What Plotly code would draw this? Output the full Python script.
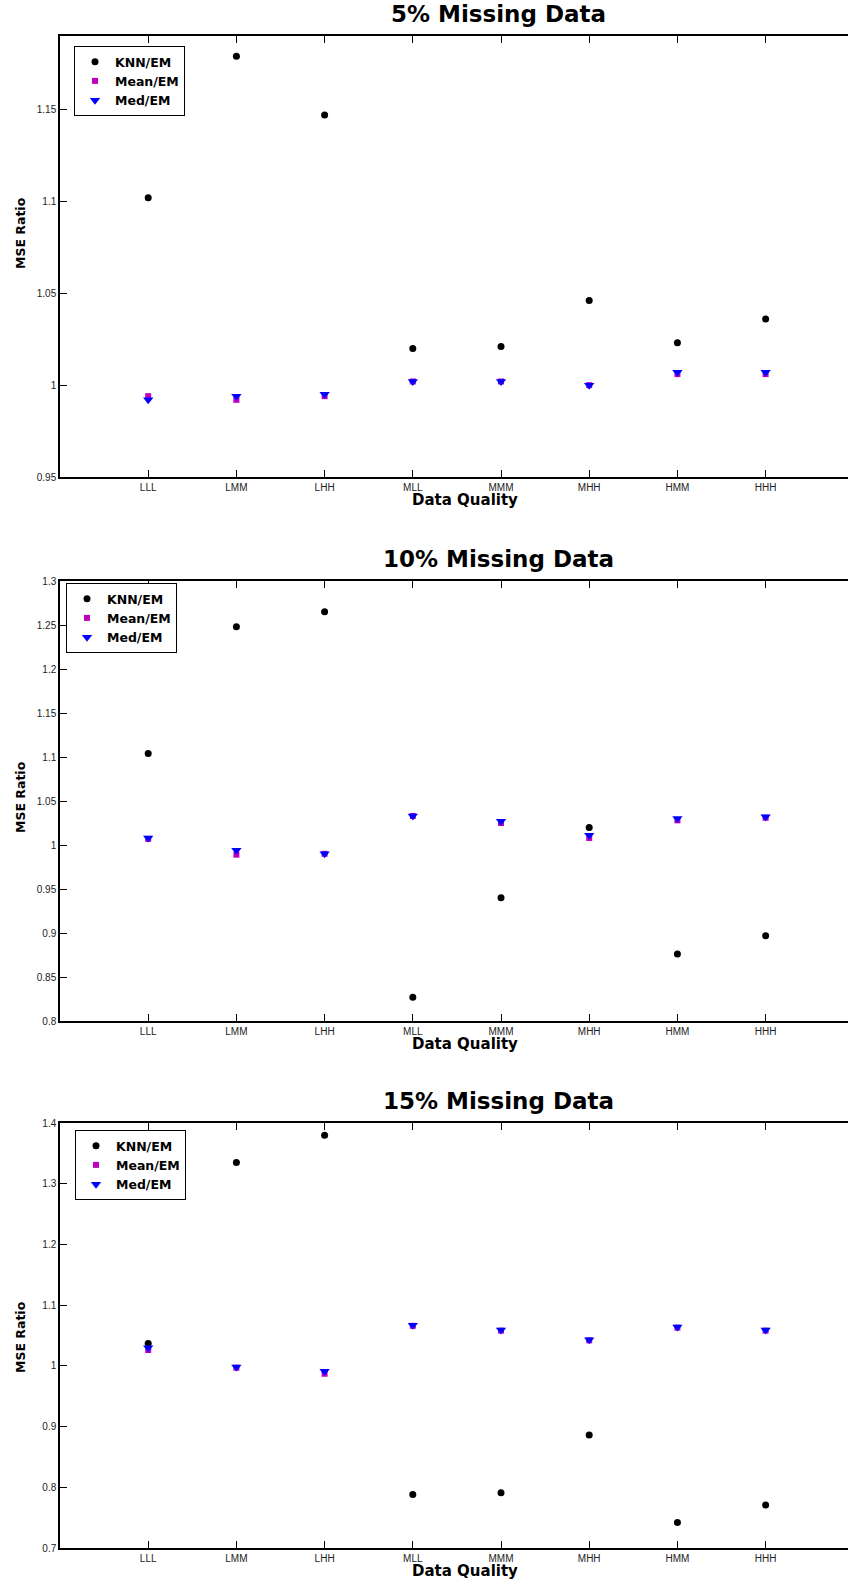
import plotly.graph_objects as go

categories = ["LLL", "LMM", "LHH", "MLL", "MMM", "MHH", "HMM", "HHH"]

# 5% missing data
knn_5 = [1.102, 1.179, 1.147, 1.020, 1.021, 1.046, 1.023, 1.036]
mean_5 = [0.994, 0.992, 0.994, 1.002, 1.002, 1.000, 1.006, 1.006]
med_5 = [0.992, 0.994, 0.995, 1.002, 1.002, 1.000, 1.007, 1.007]

# 10% missing data
knn_10 = [1.104, 1.248, 1.265, 0.827, 0.940, 1.020, 0.876, 0.897]
mean_10 = [1.007, 0.989, 0.990, 1.033, 1.025, 1.008, 1.028, 1.031]
med_10 = [1.008, 0.994, 0.990, 1.033, 1.027, 1.011, 1.030, 1.032]

# 15% missing data
knn_15 = [1.037, 1.335, 1.380, 0.788, 0.791, 0.886, 0.742, 0.771]
mean_15 = [1.026, 0.997, 0.987, 1.066, 1.058, 1.042, 1.063, 1.058]
med_15 = [1.030, 0.998, 0.991, 1.067, 1.059, 1.043, 1.064, 1.059]

titles = ["5% Missing Data", "10% Missing Data", "15% Missing Data"]
series_names = ["KNN/EM", "Mean/EM", "Med/EM"]

yticks_5 = [0.95, 1.0, 1.05, 1.1, 1.15]
yticktext_5 = ["0.95", "1", "1.05", "1.1", "1.15"]
yticks_10 = [0.8, 0.85, 0.9, 0.95, 1.0, 1.05, 1.1, 1.15, 1.2, 1.25, 1.3]
yticktext_10 = ["0.8", "0.85", "0.9", "0.95", "1", "1.05", "1.1", "1.15", "1.2", "1.25", "1.3"]
yticks_15 = [0.7, 0.8, 0.9, 1.0, 1.1, 1.2, 1.3, 1.4]
yticktext_15 = ["0.7", "0.8", "0.9", "1", "1.1", "1.2", "1.3", "1.4"]

yranges = [[0.95, 1.19], [0.8, 1.3], [0.7, 1.4]]

W, H = 848, 1583
# pixel geometry of each panel (top, bottom)
panels = [(36, 477), (581, 1021), (1123, 1548)]
legend_pos = [(74, 46), (66, 583), (75, 1130)]
ylab_center = [233, 797, 1337]

data = [
    (knn_5, mean_5, med_5, yticks_5, yticktext_5),
    (knn_10, mean_10, med_10, yticks_10, yticktext_10),
    (knn_15, mean_15, med_15, yticks_15, yticktext_15),
]

fig = go.Figure()
FONT = "DejaVu Sans"
TICKFONT = dict(family="Liberation Sans, Arial", size=10, color="#222")

annotations = []
for i, (knn, mean, med, yt, ytt) in enumerate(data):
    n = i + 1
    xa = "x" if n == 1 else f"x{n}"
    ya = "y" if n == 1 else f"y{n}"
    lg = "legend" if n == 1 else f"legend{n}"
    fig.add_trace(go.Scatter(x=categories, y=knn, mode="markers", name=series_names[0],
                             marker=dict(symbol="circle", size=7, color="black"),
                             xaxis=xa, yaxis=ya, legend=lg))
    fig.add_trace(go.Scatter(x=categories, y=mean, mode="markers", name=series_names[1],
                             marker=dict(symbol="square", size=6, color="#C000C0"),
                             xaxis=xa, yaxis=ya, legend=lg))
    fig.add_trace(go.Scatter(x=categories, y=med, mode="markers", name=series_names[2],
                             marker=dict(symbol="triangle-down", size=9, color="#0000FF"),
                             xaxis=xa, yaxis=ya, legend=lg))
    top, bot = panels[i]
    dom = [1 - bot / H, 1 - top / H]
    xkey = "xaxis" if n == 1 else f"xaxis{n}"
    ykey = "yaxis" if n == 1 else f"yaxis{n}"
    fig.update_layout(**{
        xkey: dict(domain=[60 / W, 1.0], type="category", categoryorder="array",
                   categoryarray=categories, range=[-1, 7.934], anchor=ya,
                   showgrid=False, zeroline=False, showline=True, linecolor="black",
                   linewidth=1.5, mirror="ticks", ticks="inside", ticklen=7,
                   tickcolor="black", tickwidth=1, tickfont=TICKFONT, automargin=False),
        ykey: dict(domain=dom, range=yranges[i], anchor=xa, tickvals=yt, ticktext=ytt,
                   showgrid=False, zeroline=False, showline=True, linecolor="black",
                   linewidth=1.5, ticks="inside", ticklen=7, tickcolor="black",
                   tickwidth=1, tickfont=TICKFONT, automargin=False),
        lg: dict(x=legend_pos[i][0] / W, y=1 - legend_pos[i][1] / H, xanchor="left",
                 yanchor="top", bgcolor="white", bordercolor="black", borderwidth=1,
                 font=dict(family=FONT, size=12.5, color="black", weight="bold"),
                 itemsizing="trace", tracegroupgap=0),
    })
    # panel title
    annotations.append(dict(text=f"<b>{titles[i]}</b>", x=498 / W, y=1 - (top - 22) / H,
                            xref="paper", yref="paper", showarrow=False,
                            font=dict(family=FONT, size=23, color="black"),
                            xanchor="center", yanchor="middle"))
    # x axis title
    annotations.append(dict(text="<b>Data Quality</b>", x=465 / W, y=1 - (bot + 23) / H,
                            xref="paper", yref="paper", showarrow=False,
                            font=dict(family=FONT, size=15, color="black"),
                            xanchor="center", yanchor="middle"))
    # y axis title
    annotations.append(dict(text="<b>MSE Ratio</b>", x=20 / W, y=1 - ylab_center[i] / H,
                            xref="paper", yref="paper", showarrow=False, textangle=-90,
                            font=dict(family=FONT, size=12.5, color="black"),
                            xanchor="center", yanchor="middle"))

fig.update_layout(width=W, height=H, margin=dict(l=0, r=0, t=0, b=0),
                  paper_bgcolor="white", plot_bgcolor="white",
                  annotations=annotations, showlegend=True)

fig.write_html("out.html", config={"displayModeBar": False},
               post_script="document.body.style.margin='0';document.body.style.overflow='hidden';")
